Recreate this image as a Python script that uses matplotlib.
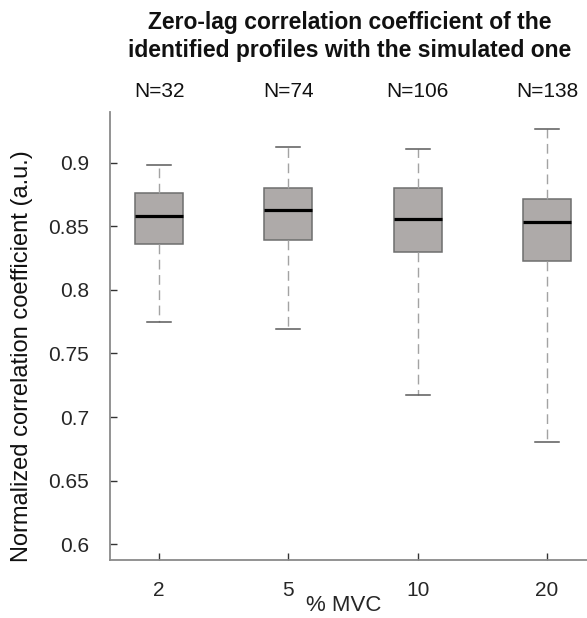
import matplotlib
matplotlib.use("Agg")
import matplotlib.pyplot as plt

plt.rcParams['font.family'] = ['Liberation Sans', 'DejaVu Sans']

# data
mvc_labels = ['2', '5', '10', '20']
n_labels = ['N=32', 'N=74', 'N=106', 'N=138']
whisker_low = [0.775, 0.769, 0.717, 0.680]
q1 = [0.836, 0.839, 0.830, 0.823]
medians = [0.858, 0.863, 0.856, 0.853]
q3 = [0.876, 0.880, 0.880, 0.871]
whisker_high = [0.898, 0.912, 0.911, 0.926]

positions = [1, 2, 3, 4]

stats = []
for i in range(len(mvc_labels)):
    stats.append({
        'whislo': whisker_low[i],
        'q1': q1[i],
        'med': medians[i],
        'q3': q3[i],
        'whishi': whisker_high[i],
        'fliers': [],
        'label': mvc_labels[i],
    })

fig = plt.figure(figsize=(5.87, 6.18), dpi=100)
ax = fig.add_axes([0.1874, 0.0934, 0.8126, 0.7259])

ax.bxp(stats, positions=positions, widths=0.37, patch_artist=True,
       showfliers=False, capwidths=0.185,
       boxprops=dict(facecolor='#aeaaa9', edgecolor='#6e6e6e', linewidth=1.1),
       medianprops=dict(color='black', linewidth=2.3),
       whiskerprops=dict(color='#a3a3a3', linewidth=1.0, linestyle=(0, (7, 4))),
       capprops=dict(color='#5a5a5a', linewidth=1.1))

ax.set_xlim(0.62, 4.31)
ax.set_ylim(0.5874, 0.940)
ax.set_yticks([0.6, 0.65, 0.7, 0.75, 0.8, 0.85, 0.9])
ax.set_yticklabels(['0.6', '0.65', '0.7', '0.75', '0.8', '0.85', '0.9'])
ax.set_xticks(positions)
ax.set_xticklabels(mvc_labels)

for s in ['top', 'right']:
    ax.spines[s].set_visible(False)
for s in ['left', 'bottom']:
    ax.spines[s].set_color('#8a8a8a')
    ax.spines[s].set_linewidth(1.3)

ax.tick_params(direction='in', length=5, width=1, color='#333333',
               labelsize=15, labelcolor='#262626')
ax.tick_params(axis='y', pad=15)
ax.tick_params(axis='x', pad=15)

ax.set_xlabel('% MVC', fontsize=16, color='#262626')
ax.xaxis.set_label_coords(0.4906, -0.0785)

fig.text(22.5 / 587, 1 - 356 / 618, 'Normalized correlation coefficient (a.u.)',
         rotation=90, ha='center', va='center', fontsize=17, color='#111111')

# N counts above each box
for p, n in zip(positions, n_labels):
    ax.text(p, 0.9519, n, ha='center', va='baseline', fontsize=15,
            color='#111111', clip_on=False)

fig.text(0.596, 1 - 29 / 618, 'Zero-lag correlation coefficient of the',
         ha='center', va='baseline', fontsize=16.5, fontweight='bold',
         color='#111111')
fig.text(0.596, 1 - 57 / 618, 'identified profiles with the simulated one',
         ha='center', va='baseline', fontsize=16.5, fontweight='bold',
         color='#111111')

fig.savefig('out.png', dpi=100)
